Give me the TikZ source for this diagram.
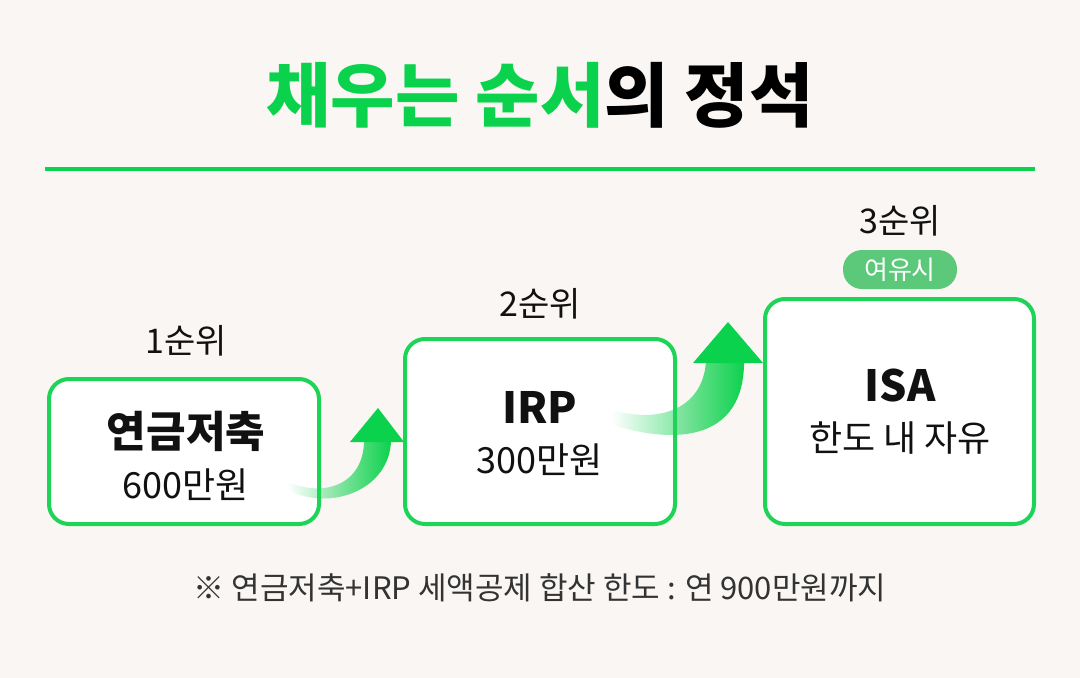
\documentclass[tikz,border=0pt]{standalone}
\usepackage{fontspec}
\setmainfont{Noto Sans CJK KR}
\usetikzlibrary{fadings}
\definecolor{bg}{HTML}{F9F6F3}
\definecolor{brand}{RGB}{11,210,76}
\definecolor{boxgreen}{RGB}{30,212,86}
\definecolor{badge}{RGB}{92,200,122}
\definecolor{ink}{HTML}{111111}
\definecolor{foot}{HTML}{333333}
\tikzfading[name=fadein, left color=transparent!100, middle color=transparent!30, right color=transparent!0]
\newcommand{\fsz}[1]{\fontsize{#1}{#1}\selectfont}
\tikzset{
  boxfill/.style={rectangle, rounded corners=20pt, fill=white, draw=none, inner sep=0pt, outer sep=0pt},
  boxline/.style={draw=boxgreen, line width=4pt, rounded corners=20pt},
  rank/.style={text=ink, font=\fsz{34}, inner sep=0pt},
  mainlbl/.style={text=ink, font=\bfseries\fsz{43}, inner sep=0pt},
  sublbl/.style={text=ink, font=\fsz{36}, inner sep=0pt},
  pill/.style={rectangle, rounded corners=19pt, fill=badge, text=white, font=\fsz{26}, minimum width=114pt, minimum height=39pt, inner sep=0pt},
  band/.style={fill=brand, path fading=fadein},
  head/.style={fill=brand},
}
\begin{document}
\begin{tikzpicture}[x=1pt, y=-1pt]
\fill[bg] (0,0) rectangle (1080,678);
\path[use as bounding box] (0,0) rectangle (1080,678);

% title
\node[font=\bfseries\fsz{70}, inner sep=0pt] (title) at (540,95) {\textcolor{brand}{채우는 순서}\textcolor{black}{의 정석}};
\coordinate (rl) at (45,169);
\coordinate (rr) at (1035,169);
\draw[brand, line width=3.5pt] (rl) -- (rr);

% boxes (fill)
\node[boxfill, minimum width=270pt, minimum height=145pt] (b1) at (184,451.5) {};
\node[boxfill, minimum width=270pt, minimum height=185pt] (b2) at (540,431.5) {};
\node[boxfill, minimum width=269pt, minimum height=225pt] (b3) at (899.5,411.5) {};

% arrows
\fill[band] (364,440) .. controls (364,484) and (325,498) .. (288,482)
  -- (288,490) .. controls (330,512) and (390,490) .. (391,440) -- cycle;
\fill[head] (350,442) -- (378,408) -- (404,442) -- cycle;
\fill[band] (706,360) .. controls (704,405) and (665,425) .. (612,410)
  -- (612,425) .. controls (695,450) and (745,428) .. (744,360) -- cycle;
\fill[head] (693,363) -- (728,322) -- (763,363) -- cycle;

% box borders
\draw[boxline] (b1.south west) rectangle (b1.north east);
\draw[boxline] (b2.south west) rectangle (b2.north east);
\draw[boxline] (b3.south west) rectangle (b3.north east);

% ranks
\node[rank] (r1) at (186,341) {1순위};
\node[rank] (r2) at (540,304) {2순위};
\node[rank] (r3) at (900,221) {3순위};
\node[pill] (p3) at (900,269.5) {여유시};

% box texts
\node[mainlbl] (t1) at (186,431) {연금저축};
\node[sublbl] (s1) at (186,485) {600만원};
\node[mainlbl] (t2) at (540,407) {IRP};
\node[sublbl] (s2) at (540,460) {300만원};
\node[mainlbl] (t3) at (900,385) {ISA};
\node[sublbl] (s3) at (900,438) {한도 내 자유};

% footer
\node[text=foot, font=\fsz{31}, inner sep=0pt] (note) at (540,588) {※ 연금저축+IRP 세액공제 합산 한도 : 연 900만원까지};
\end{tikzpicture}
\end{document}
